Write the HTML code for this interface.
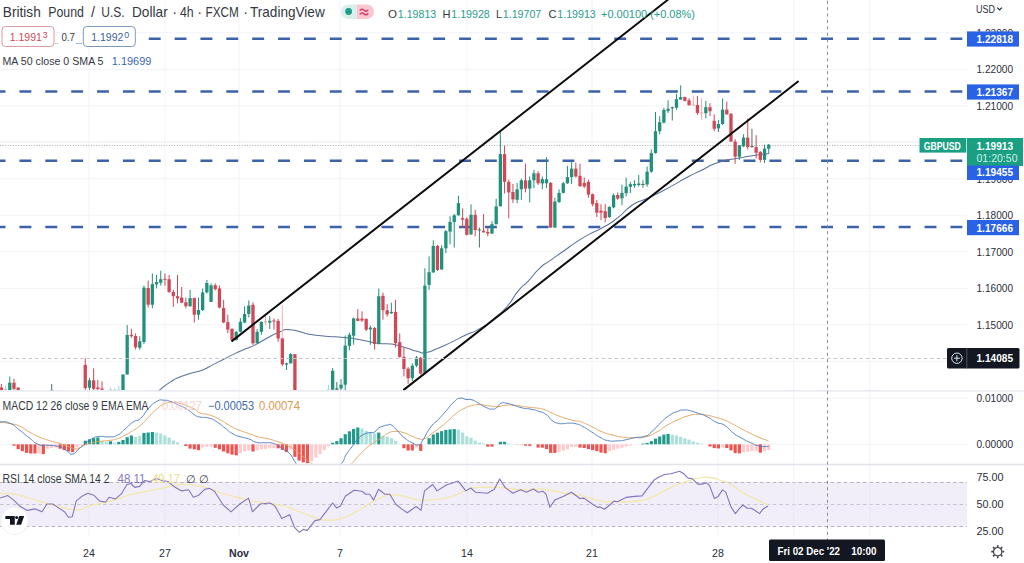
<!DOCTYPE html><html><head><meta charset="utf-8"><title>GBPUSD</title><style>html,body{margin:0;padding:0;background:#fff;width:1024px;height:563px;overflow:hidden}</style></head><body><svg width="1024" height="563" viewBox="0 0 1024 563" style="position:absolute;left:0;top:0">
<rect width="1024" height="563" fill="#ffffff"/>
<line x1="89" y1="0" x2="89" y2="536" stroke="#f2f3f7" stroke-width="1"/>
<line x1="165" y1="0" x2="165" y2="536" stroke="#f2f3f7" stroke-width="1"/>
<line x1="239" y1="0" x2="239" y2="536" stroke="#f2f3f7" stroke-width="1"/>
<line x1="340" y1="0" x2="340" y2="536" stroke="#f2f3f7" stroke-width="1"/>
<line x1="467" y1="0" x2="467" y2="536" stroke="#f2f3f7" stroke-width="1"/>
<line x1="592" y1="0" x2="592" y2="536" stroke="#f2f3f7" stroke-width="1"/>
<line x1="718" y1="0" x2="718" y2="536" stroke="#f2f3f7" stroke-width="1"/>
<line x1="793.7" y1="0" x2="793.7" y2="536" stroke="#f2f3f7" stroke-width="1"/>
<line x1="869.8" y1="0" x2="869.8" y2="536" stroke="#f2f3f7" stroke-width="1"/>
<line x1="0" y1="32.8" x2="967" y2="32.8" stroke="#f2f3f7" stroke-width="1"/>
<line x1="0" y1="69.3" x2="967" y2="69.3" stroke="#f2f3f7" stroke-width="1"/>
<line x1="0" y1="105.8" x2="967" y2="105.8" stroke="#f2f3f7" stroke-width="1"/>
<line x1="0" y1="142.3" x2="967" y2="142.3" stroke="#f2f3f7" stroke-width="1"/>
<line x1="0" y1="178.8" x2="967" y2="178.8" stroke="#f2f3f7" stroke-width="1"/>
<line x1="0" y1="215.3" x2="967" y2="215.3" stroke="#f2f3f7" stroke-width="1"/>
<line x1="0" y1="251.8" x2="967" y2="251.8" stroke="#f2f3f7" stroke-width="1"/>
<line x1="0" y1="288.3" x2="967" y2="288.3" stroke="#f2f3f7" stroke-width="1"/>
<line x1="0" y1="324.8" x2="967" y2="324.8" stroke="#f2f3f7" stroke-width="1"/>
<line x1="0" y1="361.3" x2="967" y2="361.3" stroke="#f2f3f7" stroke-width="1"/>
<line x1="0" y1="398.2" x2="967" y2="398.2" stroke="#f2f3f7" stroke-width="1"/>
<line x1="0" y1="444.3" x2="967" y2="444.3" stroke="#f2f3f7" stroke-width="1"/>
<rect x="0" y="482" width="967" height="44.5" fill="#f1eef9"/>
<line x1="0" y1="482.5" x2="967" y2="482.5" stroke="#b5b2c2" stroke-width="1" stroke-dasharray="3.5 2.94"/>
<line x1="0" y1="504.5" x2="967" y2="504.5" stroke="#c6c3d3" stroke-width="1" stroke-dasharray="3.5 2.94"/>
<line x1="0" y1="526.5" x2="967" y2="526.5" stroke="#b5b2c2" stroke-width="1" stroke-dasharray="3.5 2.94"/>
<line x1="89" y1="481.8" x2="89" y2="526" stroke="#e9e6f2" stroke-width="1"/>
<line x1="165" y1="481.8" x2="165" y2="526" stroke="#e9e6f2" stroke-width="1"/>
<line x1="239" y1="481.8" x2="239" y2="526" stroke="#e9e6f2" stroke-width="1"/>
<line x1="340" y1="481.8" x2="340" y2="526" stroke="#e9e6f2" stroke-width="1"/>
<line x1="467" y1="481.8" x2="467" y2="526" stroke="#e9e6f2" stroke-width="1"/>
<line x1="592" y1="481.8" x2="592" y2="526" stroke="#e9e6f2" stroke-width="1"/>
<line x1="718" y1="481.8" x2="718" y2="526" stroke="#e9e6f2" stroke-width="1"/>
<line x1="793.7" y1="481.8" x2="793.7" y2="526" stroke="#e9e6f2" stroke-width="1"/>
<line x1="869.8" y1="481.8" x2="869.8" y2="526" stroke="#e9e6f2" stroke-width="1"/>
<line x1="0" y1="390.8" x2="1024" y2="390.8" stroke="#e2e4ea" stroke-width="1.3"/>
<line x1="0" y1="464.5" x2="1024" y2="464.5" stroke="#e2e4ea" stroke-width="1.3"/>
<line x1="0" y1="145.5" x2="920" y2="145.5" stroke="#aeb1b8" stroke-width="1" stroke-dasharray="1 1.6"/>
<line x1="0" y1="141.5" x2="920" y2="141.5" stroke="#e2e4e9" stroke-width="1" stroke-dasharray="1 1.6"/>
<line x1="148.76" y1="38.8" x2="964" y2="38.8" stroke="#3c62a8" stroke-width="2.5" stroke-dasharray="11.9 13.96"/>
<line x1="-6.4" y1="91.5" x2="964" y2="91.5" stroke="#3c62a8" stroke-width="2.5" stroke-dasharray="11.9 13.96"/>
<line x1="-6.4" y1="160.8" x2="964" y2="160.8" stroke="#3c62a8" stroke-width="2.5" stroke-dasharray="11.9 13.96"/>
<line x1="-6.4" y1="227.1" x2="964" y2="227.1" stroke="#3c62a8" stroke-width="2.5" stroke-dasharray="11.9 13.96"/>
<defs><clipPath id="mp"><rect x="0" y="0" width="967" height="390.2"/></clipPath><clipPath id="md"><rect x="0" y="391.4" width="967" height="72.2"/></clipPath></defs>
<g clip-path="url(#mp)">
<path fill="none" stroke="#5a7296" stroke-width="1.05" d="M158.0 392.0C158.6 391.3 155.6 393.3 159.8 389.9C164.0 386.5 163.4 386.4 170.5 381.9C177.6 377.4 174.0 379.4 181.1 376.5C188.2 373.6 184.7 375.3 191.8 373.1C198.9 370.9 195.4 372.7 202.5 369.9C209.6 367.1 206.0 368.2 213.1 364.6C220.2 361.0 216.7 362.8 223.8 359.2C230.9 355.6 227.3 357.3 234.4 353.9C241.5 350.5 238.0 352.2 245.1 349.1C252.2 346.0 249.3 347.7 255.7 344.6C262.1 341.5 256.6 343.7 264.2 339.7C271.8 335.7 269.9 335.9 278.4 332.6C286.9 329.3 280.3 329.3 289.8 329.7C299.3 330.1 296.4 331.7 306.8 333.7C317.2 335.7 311.5 334.8 321.0 335.8C330.5 336.8 325.7 336.1 335.2 336.8C344.7 337.5 339.9 336.8 349.4 338.0C358.9 339.2 354.1 338.7 363.6 340.4C373.1 342.1 369.0 342.0 377.8 343.2C386.6 344.4 384.5 343.4 390.0 343.9C395.5 344.4 389.2 343.4 394.2 344.6C399.2 345.8 397.4 345.3 405.0 347.5C412.6 349.7 410.2 349.6 417.0 351.3C423.8 353.0 418.7 353.4 425.3 352.6C431.9 351.8 428.2 352.2 436.8 348.8C445.4 345.4 441.5 346.9 451.0 342.4C460.5 337.9 455.7 339.8 465.2 335.3C474.7 330.8 469.9 334.3 479.4 328.9C488.9 323.5 484.1 326.8 493.6 319.0C503.1 311.2 499.7 314.8 507.8 305.5C515.9 296.2 511.0 299.5 518.0 291.2C525.0 282.9 521.6 288.1 528.7 280.6C535.8 273.1 532.2 275.3 539.3 268.6C546.4 261.9 542.0 266.4 550.0 260.6C558.0 254.8 554.4 257.5 563.3 251.3C572.2 245.1 567.7 247.7 576.6 241.9C585.5 236.1 581.1 238.8 590.0 233.9C598.9 229.0 594.4 232.4 603.3 227.3C612.2 222.2 608.6 224.7 616.6 218.7C624.6 212.7 621.0 214.3 627.2 209.2C633.4 204.1 629.9 206.3 635.2 203.3C640.5 200.3 637.0 202.8 643.2 200.1C649.4 197.4 646.8 198.7 653.9 195.3C661.0 191.9 657.4 193.7 664.5 190.0C671.6 186.3 668.1 188.1 675.2 184.1C682.3 180.1 677.6 182.4 685.9 178.0C694.2 173.6 689.0 176.2 700.0 171.0C711.0 165.8 706.1 166.5 718.8 162.3C731.5 158.1 725.2 160.7 738.0 158.3C750.8 155.9 746.8 156.7 757.1 155.1C767.4 153.5 765.0 154.0 769.0 153.5"/>
<line x1="1.40" y1="384.0" x2="1.40" y2="390.0" stroke="#d04857" stroke-width="1"/>
<rect x="-0.25" y="387.5" width="3.3" height="2.5" fill="#d04857"/>
<line x1="5.59" y1="385.4" x2="5.59" y2="390.0" stroke="#a9d8d2" stroke-width="1"/>
<rect x="3.94" y="389.0" width="3.3" height="1.0" fill="#a9d8d2"/>
<line x1="9.79" y1="376.5" x2="9.79" y2="390.0" stroke="#22917c" stroke-width="1"/>
<rect x="8.14" y="382.7" width="3.3" height="7.3" fill="#22917c"/>
<line x1="13.98" y1="378.6" x2="13.98" y2="390.0" stroke="#d04857" stroke-width="1"/>
<rect x="12.33" y="382.7" width="3.3" height="6.1" fill="#d04857"/>
<line x1="18.17" y1="387.0" x2="18.17" y2="390.0" stroke="#d04857" stroke-width="1"/>
<rect x="16.52" y="387.7" width="3.3" height="2.3" fill="#d04857"/>
<line x1="51.72" y1="384.0" x2="51.72" y2="390.0" stroke="#4f7068" stroke-width="1"/>
<rect x="50.07" y="389.9" width="3.3" height="1.0" fill="#4f7068"/>
<line x1="85.26" y1="358.3" x2="85.26" y2="390.0" stroke="#d04857" stroke-width="1"/>
<rect x="83.61" y="364.9" width="3.3" height="23.2" fill="#d04857"/>
<line x1="89.45" y1="377.9" x2="89.45" y2="390.0" stroke="#22917c" stroke-width="1"/>
<rect x="87.80" y="380.3" width="3.3" height="7.4" fill="#22917c"/>
<line x1="93.65" y1="368.3" x2="93.65" y2="390.0" stroke="#d04857" stroke-width="1"/>
<rect x="92.00" y="380.3" width="3.3" height="8.5" fill="#d04857"/>
<line x1="97.84" y1="380.0" x2="97.84" y2="390.0" stroke="#d04857" stroke-width="1"/>
<rect x="96.19" y="387.5" width="3.3" height="1.5" fill="#d04857"/>
<line x1="102.03" y1="381.3" x2="102.03" y2="390.0" stroke="#d04857" stroke-width="1"/>
<rect x="100.38" y="388.5" width="3.3" height="1.3" fill="#d04857"/>
<line x1="110.42" y1="387.5" x2="110.42" y2="390.0" stroke="#a9d8d2" stroke-width="1"/>
<rect x="108.77" y="389.5" width="3.3" height="1.0" fill="#a9d8d2"/>
<line x1="114.61" y1="388.5" x2="114.61" y2="390.0" stroke="#a9d8d2" stroke-width="1"/>
<rect x="112.96" y="389.5" width="3.3" height="1.0" fill="#a9d8d2"/>
<line x1="118.80" y1="385.8" x2="118.80" y2="390.0" stroke="#a9d8d2" stroke-width="1"/>
<rect x="117.15" y="389.5" width="3.3" height="1.0" fill="#a9d8d2"/>
<line x1="123.00" y1="374.5" x2="123.00" y2="390.0" stroke="#22917c" stroke-width="1"/>
<rect x="121.35" y="374.5" width="3.3" height="15.5" fill="#22917c"/>
<line x1="127.19" y1="325.0" x2="127.19" y2="374.5" stroke="#22917c" stroke-width="1"/>
<rect x="125.54" y="335.0" width="3.3" height="39.5" fill="#22917c"/>
<line x1="131.38" y1="328.7" x2="131.38" y2="337.8" stroke="#d04857" stroke-width="1"/>
<rect x="129.73" y="334.8" width="3.3" height="1.4" fill="#d04857"/>
<line x1="135.58" y1="333.4" x2="135.58" y2="349.5" stroke="#d04857" stroke-width="1"/>
<rect x="133.93" y="336.0" width="3.3" height="11.4" fill="#d04857"/>
<line x1="139.77" y1="336.3" x2="139.77" y2="349.8" stroke="#22917c" stroke-width="1"/>
<rect x="138.12" y="341.3" width="3.3" height="6.4" fill="#22917c"/>
<line x1="143.96" y1="285.6" x2="143.96" y2="344.1" stroke="#22917c" stroke-width="1"/>
<rect x="142.31" y="287.7" width="3.3" height="54.3" fill="#22917c"/>
<line x1="148.16" y1="280.6" x2="148.16" y2="307.6" stroke="#d04857" stroke-width="1"/>
<rect x="146.50" y="288.0" width="3.3" height="16.7" fill="#d04857"/>
<line x1="152.35" y1="273.5" x2="152.35" y2="308.3" stroke="#22917c" stroke-width="1"/>
<rect x="150.70" y="284.1" width="3.3" height="20.6" fill="#22917c"/>
<line x1="156.54" y1="274.9" x2="156.54" y2="288.4" stroke="#22917c" stroke-width="1"/>
<rect x="154.89" y="282.0" width="3.3" height="2.4" fill="#22917c"/>
<line x1="160.73" y1="270.7" x2="160.73" y2="285.6" stroke="#22917c" stroke-width="1"/>
<rect x="159.08" y="279.2" width="3.3" height="3.5" fill="#22917c"/>
<line x1="164.93" y1="273.5" x2="164.93" y2="285.6" stroke="#d04857" stroke-width="1"/>
<rect x="163.28" y="278.8" width="3.3" height="1.0" fill="#d04857"/>
<line x1="169.12" y1="274.9" x2="169.12" y2="292.7" stroke="#d04857" stroke-width="1"/>
<rect x="167.47" y="279.2" width="3.3" height="12.8" fill="#d04857"/>
<line x1="173.31" y1="289.8" x2="173.31" y2="306.9" stroke="#d04857" stroke-width="1"/>
<rect x="171.66" y="292.0" width="3.3" height="4.2" fill="#d04857"/>
<line x1="177.51" y1="274.9" x2="177.51" y2="303.3" stroke="#d04857" stroke-width="1"/>
<rect x="175.86" y="296.2" width="3.3" height="2.2" fill="#d04857"/>
<line x1="181.70" y1="287.0" x2="181.70" y2="303.3" stroke="#d04857" stroke-width="1"/>
<rect x="180.05" y="297.6" width="3.3" height="5.0" fill="#d04857"/>
<line x1="185.89" y1="297.6" x2="185.89" y2="308.3" stroke="#d04857" stroke-width="1"/>
<rect x="184.24" y="302.2" width="3.3" height="4.0" fill="#d04857"/>
<line x1="190.08" y1="289.8" x2="190.08" y2="306.9" stroke="#22917c" stroke-width="1"/>
<rect x="188.43" y="298.1" width="3.3" height="8.1" fill="#22917c"/>
<line x1="194.28" y1="297.6" x2="194.28" y2="322.5" stroke="#d04857" stroke-width="1"/>
<rect x="192.63" y="298.1" width="3.3" height="16.6" fill="#d04857"/>
<line x1="198.47" y1="297.6" x2="198.47" y2="319.7" stroke="#22917c" stroke-width="1"/>
<rect x="196.82" y="310.0" width="3.3" height="4.7" fill="#22917c"/>
<line x1="202.66" y1="288.4" x2="202.66" y2="311.1" stroke="#22917c" stroke-width="1"/>
<rect x="201.01" y="292.4" width="3.3" height="17.6" fill="#22917c"/>
<line x1="206.86" y1="279.9" x2="206.86" y2="293.4" stroke="#22917c" stroke-width="1"/>
<rect x="205.21" y="283.0" width="3.3" height="9.4" fill="#22917c"/>
<line x1="211.05" y1="283.4" x2="211.05" y2="301.9" stroke="#22917c" stroke-width="1"/>
<rect x="209.40" y="285.3" width="3.3" height="16.6" fill="#22917c"/>
<line x1="215.24" y1="283.4" x2="215.24" y2="290.5" stroke="#d04857" stroke-width="1"/>
<rect x="213.59" y="285.3" width="3.3" height="3.8" fill="#d04857"/>
<line x1="219.44" y1="285.6" x2="219.44" y2="308.3" stroke="#d04857" stroke-width="1"/>
<rect x="217.79" y="288.4" width="3.3" height="19.2" fill="#d04857"/>
<line x1="223.63" y1="299.8" x2="223.63" y2="323.2" stroke="#d04857" stroke-width="1"/>
<rect x="221.98" y="308.0" width="3.3" height="14.5" fill="#d04857"/>
<line x1="227.82" y1="314.7" x2="227.82" y2="333.2" stroke="#d04857" stroke-width="1"/>
<rect x="226.17" y="322.2" width="3.3" height="7.4" fill="#d04857"/>
<line x1="232.01" y1="328.2" x2="232.01" y2="341.3" stroke="#d04857" stroke-width="1"/>
<rect x="230.36" y="328.9" width="3.3" height="11.0" fill="#d04857"/>
<line x1="236.21" y1="331.0" x2="236.21" y2="340.5" stroke="#22917c" stroke-width="1"/>
<rect x="234.56" y="331.9" width="3.3" height="8.0" fill="#22917c"/>
<line x1="240.40" y1="318.2" x2="240.40" y2="332.4" stroke="#22917c" stroke-width="1"/>
<rect x="238.75" y="321.8" width="3.3" height="9.9" fill="#22917c"/>
<line x1="244.59" y1="306.2" x2="244.59" y2="323.2" stroke="#22917c" stroke-width="1"/>
<rect x="242.94" y="314.0" width="3.3" height="8.5" fill="#22917c"/>
<line x1="248.79" y1="300.5" x2="248.79" y2="317.5" stroke="#22917c" stroke-width="1"/>
<rect x="247.14" y="305.5" width="3.3" height="8.5" fill="#22917c"/>
<line x1="252.98" y1="302.3" x2="252.98" y2="344.9" stroke="#d04857" stroke-width="1"/>
<rect x="251.33" y="304.8" width="3.3" height="38.5" fill="#d04857"/>
<line x1="257.17" y1="329.0" x2="257.17" y2="343.3" stroke="#22917c" stroke-width="1"/>
<rect x="255.52" y="331.8" width="3.3" height="11.5" fill="#22917c"/>
<line x1="261.37" y1="321.2" x2="261.37" y2="334.7" stroke="#22917c" stroke-width="1"/>
<rect x="259.72" y="321.9" width="3.3" height="9.9" fill="#22917c"/>
<line x1="265.56" y1="314.8" x2="265.56" y2="325.5" stroke="#f0a5a5" stroke-width="1"/>
<rect x="263.91" y="321.5" width="3.3" height="1.0" fill="#f0a5a5"/>
<line x1="269.75" y1="316.2" x2="269.75" y2="329.0" stroke="#22917c" stroke-width="1"/>
<rect x="268.10" y="320.8" width="3.3" height="1.8" fill="#22917c"/>
<line x1="273.94" y1="318.4" x2="273.94" y2="329.7" stroke="#d04857" stroke-width="1"/>
<rect x="272.29" y="320.5" width="3.3" height="1.0" fill="#d04857"/>
<line x1="278.14" y1="319.0" x2="278.14" y2="341.8" stroke="#d04857" stroke-width="1"/>
<rect x="276.49" y="320.9" width="3.3" height="17.6" fill="#d04857"/>
<line x1="282.33" y1="304.9" x2="282.33" y2="338.4" stroke="#eeb4b4" stroke-width="1"/>
<line x1="282.33" y1="338.4" x2="282.33" y2="366.0" stroke="#d04857" stroke-width="1"/>
<rect x="280.68" y="338.4" width="3.3" height="25.9" fill="#d04857"/>
<line x1="286.52" y1="362.5" x2="286.52" y2="370.0" stroke="#22917c" stroke-width="1"/>
<rect x="284.87" y="363.4" width="3.3" height="1.3" fill="#22917c"/>
<line x1="290.72" y1="353.2" x2="290.72" y2="363.4" stroke="#22917c" stroke-width="1"/>
<rect x="289.07" y="354.1" width="3.3" height="9.3" fill="#22917c"/>
<line x1="294.91" y1="354.1" x2="294.91" y2="390.0" stroke="#d04857" stroke-width="1"/>
<rect x="293.26" y="354.1" width="3.3" height="35.9" fill="#d04857"/>
<line x1="328.45" y1="384.7" x2="328.45" y2="390.0" stroke="#a9d8d2" stroke-width="1"/>
<rect x="326.80" y="389.5" width="3.3" height="1.0" fill="#a9d8d2"/>
<line x1="332.65" y1="368.0" x2="332.65" y2="390.0" stroke="#22917c" stroke-width="1"/>
<rect x="331.00" y="370.8" width="3.3" height="18.9" fill="#22917c"/>
<line x1="336.84" y1="382.0" x2="336.84" y2="390.0" stroke="#4f7068" stroke-width="1"/>
<rect x="335.19" y="388.4" width="3.3" height="1.3" fill="#4f7068"/>
<line x1="341.03" y1="379.2" x2="341.03" y2="390.0" stroke="#22917c" stroke-width="1"/>
<rect x="339.38" y="384.7" width="3.3" height="3.7" fill="#22917c"/>
<line x1="345.23" y1="335.5" x2="345.23" y2="390.0" stroke="#22917c" stroke-width="1"/>
<rect x="343.58" y="345.6" width="3.3" height="39.1" fill="#22917c"/>
<line x1="349.42" y1="332.6" x2="349.42" y2="350.3" stroke="#22917c" stroke-width="1"/>
<rect x="347.77" y="334.8" width="3.3" height="11.1" fill="#22917c"/>
<line x1="353.61" y1="317.6" x2="353.61" y2="344.7" stroke="#22917c" stroke-width="1"/>
<rect x="351.96" y="318.4" width="3.3" height="17.3" fill="#22917c"/>
<line x1="357.80" y1="309.1" x2="357.80" y2="321.2" stroke="#d04857" stroke-width="1"/>
<rect x="356.15" y="318.4" width="3.3" height="2.5" fill="#d04857"/>
<line x1="362.00" y1="311.3" x2="362.00" y2="321.9" stroke="#d04857" stroke-width="1"/>
<rect x="360.35" y="318.6" width="3.3" height="1.9" fill="#d04857"/>
<line x1="366.19" y1="318.4" x2="366.19" y2="331.1" stroke="#d04857" stroke-width="1"/>
<rect x="364.54" y="319.0" width="3.3" height="10.7" fill="#d04857"/>
<line x1="370.38" y1="325.5" x2="370.38" y2="344.7" stroke="#22917c" stroke-width="1"/>
<rect x="368.73" y="327.6" width="3.3" height="1.8" fill="#22917c"/>
<line x1="374.58" y1="326.9" x2="374.58" y2="349.5" stroke="#d04857" stroke-width="1"/>
<rect x="372.93" y="328.0" width="3.3" height="16.0" fill="#d04857"/>
<line x1="378.77" y1="288.5" x2="378.77" y2="344.6" stroke="#22917c" stroke-width="1"/>
<rect x="377.12" y="296.3" width="3.3" height="47.7" fill="#22917c"/>
<line x1="382.96" y1="292.7" x2="382.96" y2="319.7" stroke="#d04857" stroke-width="1"/>
<rect x="381.31" y="295.8" width="3.3" height="14.4" fill="#d04857"/>
<line x1="387.16" y1="304.1" x2="387.16" y2="316.5" stroke="#d04857" stroke-width="1"/>
<rect x="385.51" y="310.2" width="3.3" height="4.2" fill="#d04857"/>
<line x1="391.35" y1="302.7" x2="391.35" y2="314.0" stroke="#22917c" stroke-width="1"/>
<rect x="389.70" y="311.9" width="3.3" height="1.4" fill="#22917c"/>
<line x1="395.54" y1="299.8" x2="395.54" y2="347.5" stroke="#d04857" stroke-width="1"/>
<rect x="393.89" y="311.9" width="3.3" height="31.2" fill="#d04857"/>
<line x1="399.73" y1="333.5" x2="399.73" y2="357.8" stroke="#d04857" stroke-width="1"/>
<rect x="398.08" y="342.2" width="3.3" height="14.7" fill="#d04857"/>
<line x1="403.93" y1="347.6" x2="403.93" y2="376.4" stroke="#d04857" stroke-width="1"/>
<rect x="402.28" y="356.9" width="3.3" height="12.1" fill="#d04857"/>
<line x1="408.12" y1="367.1" x2="408.12" y2="383.8" stroke="#d04857" stroke-width="1"/>
<rect x="406.47" y="368.6" width="3.3" height="9.6" fill="#d04857"/>
<line x1="412.31" y1="363.4" x2="412.31" y2="381.0" stroke="#22917c" stroke-width="1"/>
<rect x="410.66" y="365.6" width="3.3" height="12.6" fill="#22917c"/>
<line x1="416.51" y1="356.0" x2="416.51" y2="367.1" stroke="#22917c" stroke-width="1"/>
<rect x="414.86" y="357.5" width="3.3" height="8.1" fill="#22917c"/>
<line x1="420.70" y1="356.9" x2="420.70" y2="374.5" stroke="#d04857" stroke-width="1"/>
<rect x="419.05" y="357.8" width="3.3" height="15.8" fill="#d04857"/>
<line x1="424.89" y1="268.3" x2="424.89" y2="373.0" stroke="#22917c" stroke-width="1"/>
<rect x="423.24" y="285.6" width="3.3" height="87.1" fill="#22917c"/>
<line x1="429.09" y1="256.3" x2="429.09" y2="289.9" stroke="#22917c" stroke-width="1"/>
<rect x="427.44" y="272.2" width="3.3" height="12.7" fill="#22917c"/>
<line x1="433.28" y1="240.3" x2="433.28" y2="273.0" stroke="#22917c" stroke-width="1"/>
<rect x="431.63" y="245.9" width="3.3" height="26.4" fill="#22917c"/>
<line x1="437.47" y1="245.0" x2="437.47" y2="271.0" stroke="#d04857" stroke-width="1"/>
<rect x="435.82" y="245.9" width="3.3" height="24.0" fill="#d04857"/>
<line x1="441.66" y1="245.1" x2="441.66" y2="270.0" stroke="#22917c" stroke-width="1"/>
<rect x="440.01" y="248.3" width="3.3" height="21.1" fill="#22917c"/>
<line x1="445.86" y1="230.0" x2="445.86" y2="253.1" stroke="#22917c" stroke-width="1"/>
<rect x="444.21" y="231.2" width="3.3" height="17.1" fill="#22917c"/>
<line x1="450.05" y1="216.4" x2="450.05" y2="244.3" stroke="#22917c" stroke-width="1"/>
<rect x="448.40" y="222.0" width="3.3" height="9.6" fill="#22917c"/>
<line x1="454.24" y1="214.0" x2="454.24" y2="247.5" stroke="#22917c" stroke-width="1"/>
<rect x="452.59" y="215.3" width="3.3" height="6.7" fill="#22917c"/>
<line x1="458.44" y1="195.6" x2="458.44" y2="215.6" stroke="#22917c" stroke-width="1"/>
<rect x="456.79" y="203.1" width="3.3" height="12.2" fill="#22917c"/>
<line x1="462.63" y1="208.4" x2="462.63" y2="227.6" stroke="#d04857" stroke-width="1"/>
<rect x="460.98" y="218.0" width="3.3" height="1.6" fill="#d04857"/>
<line x1="466.82" y1="217.2" x2="466.82" y2="235.5" stroke="#d04857" stroke-width="1"/>
<rect x="465.17" y="218.8" width="3.3" height="16.0" fill="#d04857"/>
<line x1="471.02" y1="204.4" x2="471.02" y2="234.8" stroke="#22917c" stroke-width="1"/>
<rect x="469.37" y="214.8" width="3.3" height="19.6" fill="#22917c"/>
<line x1="475.21" y1="210.0" x2="475.21" y2="236.3" stroke="#d04857" stroke-width="1"/>
<rect x="473.56" y="214.8" width="3.3" height="15.2" fill="#d04857"/>
<line x1="479.40" y1="227.6" x2="479.40" y2="247.5" stroke="#4f7068" stroke-width="1"/>
<rect x="477.75" y="229.5" width="3.3" height="1.0" fill="#4f7068"/>
<line x1="483.59" y1="214.0" x2="483.59" y2="232.4" stroke="#d04857" stroke-width="1"/>
<rect x="481.94" y="230.8" width="3.3" height="1.6" fill="#d04857"/>
<line x1="487.79" y1="227.6" x2="487.79" y2="236.3" stroke="#d04857" stroke-width="1"/>
<rect x="486.14" y="231.9" width="3.3" height="1.6" fill="#d04857"/>
<line x1="491.98" y1="221.2" x2="491.98" y2="234.0" stroke="#22917c" stroke-width="1"/>
<rect x="490.33" y="224.2" width="3.3" height="9.3" fill="#22917c"/>
<line x1="496.17" y1="198.8" x2="496.17" y2="224.4" stroke="#22917c" stroke-width="1"/>
<rect x="494.52" y="206.4" width="3.3" height="17.8" fill="#22917c"/>
<line x1="500.37" y1="131.7" x2="500.37" y2="206.3" stroke="#22917c" stroke-width="1"/>
<rect x="498.72" y="154.1" width="3.3" height="52.2" fill="#22917c"/>
<line x1="504.56" y1="145.6" x2="504.56" y2="193.5" stroke="#d04857" stroke-width="1"/>
<rect x="502.91" y="154.1" width="3.3" height="27.7" fill="#d04857"/>
<line x1="508.75" y1="179.7" x2="508.75" y2="218.4" stroke="#d04857" stroke-width="1"/>
<rect x="507.10" y="181.8" width="3.3" height="10.6" fill="#d04857"/>
<line x1="512.95" y1="183.9" x2="512.95" y2="203.0" stroke="#d04857" stroke-width="1"/>
<rect x="511.30" y="192.0" width="3.3" height="7.4" fill="#d04857"/>
<line x1="517.14" y1="182.9" x2="517.14" y2="203.3" stroke="#22917c" stroke-width="1"/>
<rect x="515.49" y="189.3" width="3.3" height="10.5" fill="#22917c"/>
<line x1="521.33" y1="178.6" x2="521.33" y2="200.0" stroke="#22917c" stroke-width="1"/>
<rect x="519.68" y="180.3" width="3.3" height="9.0" fill="#22917c"/>
<line x1="525.52" y1="163.7" x2="525.52" y2="192.4" stroke="#d04857" stroke-width="1"/>
<rect x="523.88" y="180.3" width="3.3" height="8.3" fill="#d04857"/>
<line x1="529.72" y1="176.5" x2="529.72" y2="202.4" stroke="#22917c" stroke-width="1"/>
<rect x="528.07" y="180.3" width="3.3" height="8.3" fill="#22917c"/>
<line x1="533.91" y1="170.0" x2="533.91" y2="188.2" stroke="#22917c" stroke-width="1"/>
<rect x="532.26" y="173.3" width="3.3" height="7.0" fill="#22917c"/>
<line x1="538.10" y1="171.1" x2="538.10" y2="185.0" stroke="#d04857" stroke-width="1"/>
<rect x="536.45" y="173.3" width="3.3" height="10.0" fill="#d04857"/>
<line x1="542.30" y1="176.5" x2="542.30" y2="189.3" stroke="#22917c" stroke-width="1"/>
<rect x="540.65" y="179.2" width="3.3" height="4.3" fill="#22917c"/>
<line x1="546.49" y1="157.3" x2="546.49" y2="188.2" stroke="#22917c" stroke-width="1"/>
<rect x="544.84" y="179.2" width="3.3" height="4.1" fill="#22917c"/>
<line x1="550.68" y1="182.0" x2="550.68" y2="227.6" stroke="#d04857" stroke-width="1"/>
<rect x="549.03" y="182.9" width="3.3" height="44.7" fill="#d04857"/>
<line x1="554.88" y1="197.8" x2="554.88" y2="227.6" stroke="#22917c" stroke-width="1"/>
<rect x="553.23" y="201.6" width="3.3" height="26.0" fill="#22917c"/>
<line x1="559.07" y1="189.3" x2="559.07" y2="203.1" stroke="#22917c" stroke-width="1"/>
<rect x="557.42" y="192.9" width="3.3" height="9.1" fill="#22917c"/>
<line x1="563.26" y1="181.8" x2="563.26" y2="193.5" stroke="#22917c" stroke-width="1"/>
<rect x="561.61" y="183.3" width="3.3" height="9.6" fill="#22917c"/>
<line x1="567.45" y1="165.8" x2="567.45" y2="183.9" stroke="#22917c" stroke-width="1"/>
<rect x="565.80" y="177.1" width="3.3" height="6.2" fill="#22917c"/>
<line x1="571.65" y1="161.6" x2="571.65" y2="183.9" stroke="#22917c" stroke-width="1"/>
<rect x="570.00" y="168.6" width="3.3" height="8.5" fill="#22917c"/>
<line x1="575.84" y1="162.6" x2="575.84" y2="177.5" stroke="#d04857" stroke-width="1"/>
<rect x="574.19" y="168.6" width="3.3" height="7.9" fill="#d04857"/>
<line x1="580.03" y1="163.7" x2="580.03" y2="187.1" stroke="#d04857" stroke-width="1"/>
<rect x="578.38" y="175.8" width="3.3" height="10.3" fill="#d04857"/>
<line x1="584.23" y1="177.5" x2="584.23" y2="188.2" stroke="#d04857" stroke-width="1"/>
<rect x="582.58" y="182.9" width="3.3" height="3.6" fill="#d04857"/>
<line x1="588.42" y1="179.7" x2="588.42" y2="197.8" stroke="#d04857" stroke-width="1"/>
<rect x="586.77" y="181.8" width="3.3" height="12.8" fill="#d04857"/>
<line x1="592.61" y1="193.5" x2="592.61" y2="206.3" stroke="#d04857" stroke-width="1"/>
<rect x="590.96" y="194.2" width="3.3" height="10.0" fill="#d04857"/>
<line x1="596.81" y1="199.9" x2="596.81" y2="217.0" stroke="#d04857" stroke-width="1"/>
<rect x="595.16" y="203.1" width="3.3" height="9.6" fill="#d04857"/>
<line x1="601.00" y1="204.2" x2="601.00" y2="220.1" stroke="#d04857" stroke-width="1"/>
<rect x="599.35" y="210.6" width="3.3" height="2.1" fill="#d04857"/>
<line x1="605.19" y1="204.2" x2="605.19" y2="222.3" stroke="#d04857" stroke-width="1"/>
<rect x="603.54" y="211.2" width="3.3" height="6.8" fill="#d04857"/>
<line x1="609.38" y1="206.3" x2="609.38" y2="218.0" stroke="#22917c" stroke-width="1"/>
<rect x="607.73" y="206.9" width="3.3" height="10.1" fill="#22917c"/>
<line x1="613.58" y1="193.5" x2="613.58" y2="208.4" stroke="#22917c" stroke-width="1"/>
<rect x="611.93" y="195.2" width="3.3" height="12.2" fill="#22917c"/>
<line x1="617.77" y1="192.4" x2="617.77" y2="199.9" stroke="#d04857" stroke-width="1"/>
<rect x="616.12" y="195.0" width="3.3" height="3.6" fill="#d04857"/>
<line x1="621.96" y1="184.7" x2="621.96" y2="205.2" stroke="#22917c" stroke-width="1"/>
<rect x="620.31" y="192.9" width="3.3" height="5.5" fill="#22917c"/>
<line x1="626.16" y1="177.6" x2="626.16" y2="196.4" stroke="#22917c" stroke-width="1"/>
<rect x="624.51" y="186.6" width="3.3" height="6.6" fill="#22917c"/>
<line x1="630.35" y1="181.9" x2="630.35" y2="193.0" stroke="#22917c" stroke-width="1"/>
<rect x="628.70" y="184.2" width="3.3" height="2.6" fill="#22917c"/>
<line x1="634.54" y1="180.2" x2="634.54" y2="187.7" stroke="#22917c" stroke-width="1"/>
<rect x="632.89" y="184.0" width="3.3" height="1.5" fill="#22917c"/>
<line x1="638.74" y1="174.9" x2="638.74" y2="186.6" stroke="#22917c" stroke-width="1"/>
<rect x="637.09" y="183.5" width="3.3" height="1.5" fill="#22917c"/>
<line x1="642.93" y1="180.2" x2="642.93" y2="187.7" stroke="#4f7068" stroke-width="1"/>
<rect x="641.28" y="184.0" width="3.3" height="1.0" fill="#4f7068"/>
<line x1="647.12" y1="166.4" x2="647.12" y2="186.6" stroke="#22917c" stroke-width="1"/>
<rect x="645.47" y="171.7" width="3.3" height="12.8" fill="#22917c"/>
<line x1="651.31" y1="149.3" x2="651.31" y2="172.8" stroke="#22917c" stroke-width="1"/>
<rect x="649.66" y="153.1" width="3.3" height="18.6" fill="#22917c"/>
<line x1="655.51" y1="112.0" x2="655.51" y2="153.6" stroke="#22917c" stroke-width="1"/>
<rect x="653.86" y="131.2" width="3.3" height="21.9" fill="#22917c"/>
<line x1="659.70" y1="116.2" x2="659.70" y2="134.4" stroke="#22917c" stroke-width="1"/>
<rect x="658.05" y="122.2" width="3.3" height="9.0" fill="#22917c"/>
<line x1="663.89" y1="107.7" x2="663.89" y2="123.7" stroke="#22917c" stroke-width="1"/>
<rect x="662.24" y="109.9" width="3.3" height="12.7" fill="#22917c"/>
<line x1="668.09" y1="100.3" x2="668.09" y2="113.0" stroke="#22917c" stroke-width="1"/>
<rect x="666.44" y="108.8" width="3.3" height="2.1" fill="#22917c"/>
<line x1="672.28" y1="106.7" x2="672.28" y2="120.5" stroke="#4f7068" stroke-width="1"/>
<rect x="670.63" y="107.3" width="3.3" height="1.1" fill="#4f7068"/>
<line x1="676.47" y1="93.9" x2="676.47" y2="109.9" stroke="#22917c" stroke-width="1"/>
<rect x="674.82" y="99.2" width="3.3" height="8.5" fill="#22917c"/>
<line x1="680.67" y1="85.3" x2="680.67" y2="99.6" stroke="#22917c" stroke-width="1"/>
<rect x="679.02" y="97.1" width="3.3" height="2.5" fill="#22917c"/>
<line x1="684.86" y1="96.5" x2="684.86" y2="101.5" stroke="#d04857" stroke-width="1"/>
<rect x="683.21" y="97.1" width="3.3" height="3.8" fill="#d04857"/>
<line x1="689.05" y1="98.2" x2="689.05" y2="105.6" stroke="#d04857" stroke-width="1"/>
<rect x="687.40" y="100.3" width="3.3" height="4.9" fill="#d04857"/>
<line x1="693.24" y1="95.5" x2="693.24" y2="105.6" stroke="#f0a5a5" stroke-width="1"/>
<rect x="691.59" y="104.6" width="3.3" height="1.0" fill="#f0a5a5"/>
<line x1="697.44" y1="96.0" x2="697.44" y2="114.8" stroke="#d04857" stroke-width="1"/>
<rect x="695.79" y="105.0" width="3.3" height="7.9" fill="#d04857"/>
<line x1="701.63" y1="98.2" x2="701.63" y2="119.7" stroke="#f0a5a5" stroke-width="1"/>
<rect x="699.98" y="112.5" width="3.3" height="1.0" fill="#f0a5a5"/>
<line x1="705.82" y1="100.8" x2="705.82" y2="118.4" stroke="#22917c" stroke-width="1"/>
<rect x="704.17" y="107.2" width="3.3" height="6.0" fill="#22917c"/>
<line x1="710.02" y1="103.2" x2="710.02" y2="116.0" stroke="#d04857" stroke-width="1"/>
<rect x="708.37" y="107.2" width="3.3" height="4.0" fill="#d04857"/>
<line x1="714.21" y1="114.4" x2="714.21" y2="131.2" stroke="#d04857" stroke-width="1"/>
<rect x="712.56" y="120.8" width="3.3" height="8.0" fill="#d04857"/>
<line x1="718.40" y1="120.0" x2="718.40" y2="132.0" stroke="#22917c" stroke-width="1"/>
<rect x="716.75" y="124.0" width="3.3" height="4.4" fill="#22917c"/>
<line x1="722.60" y1="98.4" x2="722.60" y2="124.8" stroke="#22917c" stroke-width="1"/>
<rect x="720.95" y="109.6" width="3.3" height="14.4" fill="#22917c"/>
<line x1="726.79" y1="101.6" x2="726.79" y2="114.4" stroke="#d04857" stroke-width="1"/>
<rect x="725.14" y="109.6" width="3.3" height="4.8" fill="#d04857"/>
<line x1="730.98" y1="113.6" x2="730.98" y2="141.6" stroke="#d04857" stroke-width="1"/>
<rect x="729.33" y="113.6" width="3.3" height="28.0" fill="#d04857"/>
<line x1="735.17" y1="139.2" x2="735.17" y2="163.9" stroke="#d04857" stroke-width="1"/>
<rect x="733.52" y="141.6" width="3.3" height="15.1" fill="#d04857"/>
<line x1="739.37" y1="145.2" x2="739.37" y2="160.0" stroke="#22917c" stroke-width="1"/>
<rect x="737.72" y="145.2" width="3.3" height="11.5" fill="#22917c"/>
<line x1="743.56" y1="134.4" x2="743.56" y2="147.1" stroke="#22917c" stroke-width="1"/>
<rect x="741.91" y="137.6" width="3.3" height="8.7" fill="#22917c"/>
<line x1="747.75" y1="118.4" x2="747.75" y2="149.5" stroke="#d04857" stroke-width="1"/>
<rect x="746.10" y="137.6" width="3.3" height="9.5" fill="#d04857"/>
<line x1="751.95" y1="128.8" x2="751.95" y2="147.9" stroke="#4f7068" stroke-width="1"/>
<rect x="750.30" y="146.0" width="3.3" height="1.0" fill="#4f7068"/>
<line x1="756.14" y1="135.2" x2="756.14" y2="158.3" stroke="#d04857" stroke-width="1"/>
<rect x="754.49" y="147.1" width="3.3" height="5.6" fill="#d04857"/>
<line x1="760.33" y1="151.1" x2="760.33" y2="162.3" stroke="#d04857" stroke-width="1"/>
<rect x="758.68" y="151.9" width="3.3" height="8.0" fill="#d04857"/>
<line x1="764.53" y1="144.7" x2="764.53" y2="163.1" stroke="#22917c" stroke-width="1"/>
<rect x="762.88" y="148.7" width="3.3" height="11.2" fill="#22917c"/>
<line x1="768.72" y1="144.0" x2="768.72" y2="153.5" stroke="#22917c" stroke-width="1"/>
<rect x="767.07" y="144.7" width="3.3" height="4.0" fill="#22917c"/>
<line x1="232.2" y1="340.9" x2="668.5" y2="-0.7" stroke="#0c0c0c" stroke-width="2.0" stroke-linecap="round"/>
<line x1="404" y1="389.6" x2="798" y2="81.5" stroke="#0c0c0c" stroke-width="2.0" stroke-linecap="round"/>
</g>
<g clip-path="url(#md)">
<rect x="12.38" y="444.3" width="3.2" height="1.4" fill="#ef5350"/>
<rect x="16.57" y="444.3" width="3.2" height="4.8" fill="#ef5350"/>
<rect x="20.76" y="444.3" width="3.2" height="6.9" fill="#ef5350"/>
<rect x="24.96" y="444.3" width="3.2" height="8.6" fill="#ef5350"/>
<rect x="29.15" y="444.3" width="3.2" height="9.2" fill="#ef5350"/>
<rect x="33.34" y="444.3" width="3.2" height="9.2" fill="#ef5350"/>
<rect x="37.54" y="444.3" width="3.2" height="9.2" fill="#fccbcd"/>
<rect x="41.73" y="444.3" width="3.2" height="9.8" fill="#ef5350"/>
<rect x="45.92" y="444.3" width="3.2" height="4.5" fill="#fccbcd"/>
<rect x="50.12" y="444.3" width="3.2" height="3.7" fill="#fccbcd"/>
<rect x="54.31" y="444.3" width="3.2" height="3.3" fill="#fccbcd"/>
<rect x="58.50" y="444.3" width="3.2" height="4.4" fill="#ef5350"/>
<rect x="62.70" y="444.3" width="3.2" height="5.8" fill="#ef5350"/>
<rect x="66.89" y="444.3" width="3.2" height="7.1" fill="#ef5350"/>
<rect x="71.08" y="444.3" width="3.2" height="7.8" fill="#ef5350"/>
<rect x="75.27" y="444.3" width="3.2" height="3.0" fill="#fccbcd"/>
<rect x="79.47" y="444.3" width="3.2" height="1.4" fill="#fccbcd"/>
<rect x="83.66" y="440.7" width="3.2" height="3.6" fill="#229a8b"/>
<rect x="87.85" y="439.3" width="3.2" height="5.0" fill="#229a8b"/>
<rect x="92.05" y="438.1" width="3.2" height="6.2" fill="#229a8b"/>
<rect x="96.24" y="437.5" width="3.2" height="6.8" fill="#229a8b"/>
<rect x="100.43" y="441.1" width="3.2" height="3.2" fill="#ace0da"/>
<rect x="104.62" y="441.8" width="3.2" height="2.5" fill="#ace0da"/>
<rect x="108.82" y="441.2" width="3.2" height="3.1" fill="#229a8b"/>
<rect x="113.01" y="442.7" width="3.2" height="1.6" fill="#ace0da"/>
<rect x="117.20" y="441.9" width="3.2" height="2.4" fill="#229a8b"/>
<rect x="121.40" y="440.0" width="3.2" height="4.3" fill="#229a8b"/>
<rect x="125.59" y="437.2" width="3.2" height="7.1" fill="#229a8b"/>
<rect x="129.78" y="435.5" width="3.2" height="8.8" fill="#229a8b"/>
<rect x="133.98" y="436.9" width="3.2" height="7.4" fill="#ace0da"/>
<rect x="138.17" y="435.9" width="3.2" height="8.4" fill="#ace0da"/>
<rect x="142.36" y="432.9" width="3.2" height="11.4" fill="#229a8b"/>
<rect x="146.56" y="432.5" width="3.2" height="11.8" fill="#229a8b"/>
<rect x="150.75" y="432.0" width="3.2" height="12.3" fill="#229a8b"/>
<rect x="154.94" y="432.6" width="3.2" height="11.7" fill="#ace0da"/>
<rect x="159.13" y="433.6" width="3.2" height="10.7" fill="#ace0da"/>
<rect x="163.33" y="435.4" width="3.2" height="8.9" fill="#ace0da"/>
<rect x="167.52" y="437.6" width="3.2" height="6.7" fill="#ace0da"/>
<rect x="171.71" y="440.4" width="3.2" height="3.9" fill="#ace0da"/>
<rect x="175.91" y="442.3" width="3.2" height="2.0" fill="#ace0da"/>
<rect x="184.29" y="444.3" width="3.2" height="1.7" fill="#ef5350"/>
<rect x="188.48" y="444.3" width="3.2" height="4.3" fill="#ef5350"/>
<rect x="192.68" y="444.3" width="3.2" height="5.0" fill="#ef5350"/>
<rect x="196.87" y="444.3" width="3.2" height="5.9" fill="#ef5350"/>
<rect x="201.06" y="444.3" width="3.2" height="3.2" fill="#fccbcd"/>
<rect x="205.26" y="444.3" width="3.2" height="2.6" fill="#fccbcd"/>
<rect x="209.45" y="444.3" width="3.2" height="2.3" fill="#fccbcd"/>
<rect x="213.64" y="444.3" width="3.2" height="3.5" fill="#ef5350"/>
<rect x="217.84" y="444.3" width="3.2" height="5.0" fill="#ef5350"/>
<rect x="222.03" y="444.3" width="3.2" height="7.2" fill="#ef5350"/>
<rect x="226.22" y="444.3" width="3.2" height="9.0" fill="#ef5350"/>
<rect x="230.41" y="444.3" width="3.2" height="10.4" fill="#ef5350"/>
<rect x="234.61" y="444.3" width="3.2" height="11.1" fill="#ef5350"/>
<rect x="238.80" y="444.3" width="3.2" height="8.9" fill="#fccbcd"/>
<rect x="242.99" y="444.3" width="3.2" height="7.0" fill="#fccbcd"/>
<rect x="247.19" y="444.3" width="3.2" height="6.2" fill="#fccbcd"/>
<rect x="251.38" y="444.3" width="3.2" height="7.2" fill="#ef5350"/>
<rect x="255.57" y="444.3" width="3.2" height="6.1" fill="#fccbcd"/>
<rect x="259.77" y="444.3" width="3.2" height="5.1" fill="#fccbcd"/>
<rect x="263.96" y="444.3" width="3.2" height="4.6" fill="#fccbcd"/>
<rect x="268.15" y="444.3" width="3.2" height="4.1" fill="#fccbcd"/>
<rect x="272.34" y="444.3" width="3.2" height="3.9" fill="#fccbcd"/>
<rect x="276.54" y="444.3" width="3.2" height="4.0" fill="#ef5350"/>
<rect x="280.73" y="444.3" width="3.2" height="5.6" fill="#ef5350"/>
<rect x="284.92" y="444.3" width="3.2" height="7.8" fill="#ef5350"/>
<rect x="289.12" y="444.3" width="3.2" height="5.3" fill="#fccbcd"/>
<rect x="293.31" y="444.3" width="3.2" height="12.5" fill="#ef5350"/>
<rect x="297.50" y="444.3" width="3.2" height="16.3" fill="#ef5350"/>
<rect x="301.70" y="444.3" width="3.2" height="18.1" fill="#ef5350"/>
<rect x="305.89" y="444.3" width="3.2" height="18.9" fill="#ef5350"/>
<rect x="310.08" y="444.3" width="3.2" height="16.5" fill="#fccbcd"/>
<rect x="314.27" y="444.3" width="3.2" height="13.4" fill="#fccbcd"/>
<rect x="318.47" y="444.3" width="3.2" height="10.0" fill="#fccbcd"/>
<rect x="322.66" y="444.3" width="3.2" height="5.8" fill="#fccbcd"/>
<rect x="326.85" y="444.3" width="3.2" height="2.2" fill="#fccbcd"/>
<rect x="331.05" y="442.8" width="3.2" height="1.5" fill="#229a8b"/>
<rect x="335.24" y="441.1" width="3.2" height="3.2" fill="#229a8b"/>
<rect x="339.43" y="438.2" width="3.2" height="6.1" fill="#229a8b"/>
<rect x="343.63" y="434.2" width="3.2" height="10.1" fill="#229a8b"/>
<rect x="347.82" y="431.3" width="3.2" height="13.0" fill="#229a8b"/>
<rect x="352.01" y="428.9" width="3.2" height="15.4" fill="#229a8b"/>
<rect x="356.20" y="427.5" width="3.2" height="16.8" fill="#229a8b"/>
<rect x="360.40" y="428.6" width="3.2" height="15.7" fill="#ace0da"/>
<rect x="364.59" y="430.7" width="3.2" height="13.6" fill="#ace0da"/>
<rect x="368.78" y="432.5" width="3.2" height="11.8" fill="#ace0da"/>
<rect x="372.98" y="433.4" width="3.2" height="10.9" fill="#ace0da"/>
<rect x="377.17" y="432.6" width="3.2" height="11.7" fill="#229a8b"/>
<rect x="381.36" y="435.9" width="3.2" height="8.4" fill="#ace0da"/>
<rect x="385.56" y="436.5" width="3.2" height="7.8" fill="#ace0da"/>
<rect x="389.75" y="438.2" width="3.2" height="6.1" fill="#ace0da"/>
<rect x="393.94" y="440.8" width="3.2" height="3.5" fill="#ace0da"/>
<rect x="402.33" y="444.3" width="3.2" height="3.9" fill="#ef5350"/>
<rect x="406.52" y="444.3" width="3.2" height="6.2" fill="#ef5350"/>
<rect x="410.71" y="444.3" width="3.2" height="6.2" fill="#ef5350"/>
<rect x="414.91" y="444.3" width="3.2" height="3.3" fill="#fccbcd"/>
<rect x="419.10" y="444.3" width="3.2" height="6.6" fill="#ef5350"/>
<rect x="427.49" y="438.2" width="3.2" height="6.1" fill="#229a8b"/>
<rect x="431.68" y="434.5" width="3.2" height="9.8" fill="#229a8b"/>
<rect x="435.87" y="432.7" width="3.2" height="11.6" fill="#229a8b"/>
<rect x="440.06" y="431.2" width="3.2" height="13.1" fill="#229a8b"/>
<rect x="444.26" y="430.0" width="3.2" height="14.3" fill="#229a8b"/>
<rect x="448.45" y="429.4" width="3.2" height="14.9" fill="#229a8b"/>
<rect x="452.64" y="429.1" width="3.2" height="15.2" fill="#229a8b"/>
<rect x="456.84" y="429.7" width="3.2" height="14.6" fill="#ace0da"/>
<rect x="461.03" y="432.6" width="3.2" height="11.7" fill="#ace0da"/>
<rect x="465.22" y="436.2" width="3.2" height="8.1" fill="#ace0da"/>
<rect x="469.42" y="437.8" width="3.2" height="6.5" fill="#ace0da"/>
<rect x="473.61" y="440.6" width="3.2" height="3.7" fill="#ace0da"/>
<rect x="477.80" y="442.6" width="3.2" height="1.7" fill="#ace0da"/>
<rect x="481.99" y="443.5" width="3.2" height="0.8" fill="#ace0da"/>
<rect x="486.19" y="444.3" width="3.2" height="2.3" fill="#ef5350"/>
<rect x="490.38" y="444.3" width="3.2" height="2.3" fill="#ef5350"/>
<rect x="498.77" y="441.8" width="3.2" height="2.5" fill="#229a8b"/>
<rect x="502.96" y="441.8" width="3.2" height="2.5" fill="#229a8b"/>
<rect x="507.15" y="443.5" width="3.2" height="0.8" fill="#ace0da"/>
<rect x="515.54" y="444.3" width="3.2" height="0.8" fill="#fccbcd"/>
<rect x="519.73" y="444.3" width="3.2" height="1.0" fill="#fccbcd"/>
<rect x="523.92" y="444.3" width="3.2" height="1.4" fill="#ef5350"/>
<rect x="528.12" y="444.3" width="3.2" height="1.6" fill="#ef5350"/>
<rect x="536.50" y="444.3" width="3.2" height="3.3" fill="#ef5350"/>
<rect x="540.70" y="444.3" width="3.2" height="3.4" fill="#ef5350"/>
<rect x="544.89" y="444.3" width="3.2" height="4.8" fill="#ef5350"/>
<rect x="549.08" y="444.3" width="3.2" height="8.6" fill="#ef5350"/>
<rect x="553.28" y="444.3" width="3.2" height="8.6" fill="#ef5350"/>
<rect x="557.47" y="444.3" width="3.2" height="7.7" fill="#fccbcd"/>
<rect x="561.66" y="444.3" width="3.2" height="6.4" fill="#fccbcd"/>
<rect x="565.85" y="444.3" width="3.2" height="5.0" fill="#fccbcd"/>
<rect x="570.05" y="444.3" width="3.2" height="2.6" fill="#fccbcd"/>
<rect x="574.24" y="444.3" width="3.2" height="2.6" fill="#fccbcd"/>
<rect x="578.43" y="444.3" width="3.2" height="3.3" fill="#ef5350"/>
<rect x="582.63" y="444.3" width="3.2" height="3.7" fill="#ef5350"/>
<rect x="586.82" y="444.3" width="3.2" height="4.8" fill="#ef5350"/>
<rect x="591.01" y="444.3" width="3.2" height="5.8" fill="#ef5350"/>
<rect x="595.21" y="444.3" width="3.2" height="6.9" fill="#ef5350"/>
<rect x="599.40" y="444.3" width="3.2" height="8.3" fill="#ef5350"/>
<rect x="603.59" y="444.3" width="3.2" height="9.0" fill="#ef5350"/>
<rect x="607.78" y="444.3" width="3.2" height="6.9" fill="#fccbcd"/>
<rect x="611.98" y="444.3" width="3.2" height="5.5" fill="#fccbcd"/>
<rect x="616.17" y="444.3" width="3.2" height="4.3" fill="#fccbcd"/>
<rect x="620.36" y="444.3" width="3.2" height="3.4" fill="#fccbcd"/>
<rect x="624.56" y="444.3" width="3.2" height="2.2" fill="#fccbcd"/>
<rect x="628.75" y="444.3" width="3.2" height="1.2" fill="#fccbcd"/>
<rect x="641.33" y="443.6" width="3.2" height="0.7" fill="#229a8b"/>
<rect x="645.52" y="442.9" width="3.2" height="1.4" fill="#229a8b"/>
<rect x="649.71" y="441.1" width="3.2" height="3.2" fill="#229a8b"/>
<rect x="653.91" y="438.6" width="3.2" height="5.7" fill="#229a8b"/>
<rect x="658.10" y="436.5" width="3.2" height="7.8" fill="#229a8b"/>
<rect x="662.29" y="434.6" width="3.2" height="9.7" fill="#229a8b"/>
<rect x="666.49" y="434.0" width="3.2" height="10.3" fill="#229a8b"/>
<rect x="670.68" y="434.7" width="3.2" height="9.6" fill="#ace0da"/>
<rect x="674.87" y="435.5" width="3.2" height="8.8" fill="#ace0da"/>
<rect x="679.07" y="436.8" width="3.2" height="7.5" fill="#ace0da"/>
<rect x="683.26" y="438.3" width="3.2" height="6.0" fill="#ace0da"/>
<rect x="687.45" y="439.7" width="3.2" height="4.6" fill="#ace0da"/>
<rect x="691.64" y="441.4" width="3.2" height="2.9" fill="#ace0da"/>
<rect x="695.84" y="442.7" width="3.2" height="1.6" fill="#ace0da"/>
<rect x="700.03" y="443.7" width="3.2" height="0.6" fill="#ace0da"/>
<rect x="708.42" y="444.3" width="3.2" height="2.2" fill="#ef5350"/>
<rect x="712.61" y="444.3" width="3.2" height="3.8" fill="#ef5350"/>
<rect x="716.80" y="444.3" width="3.2" height="4.1" fill="#ef5350"/>
<rect x="721.00" y="444.3" width="3.2" height="3.2" fill="#fccbcd"/>
<rect x="725.19" y="444.3" width="3.2" height="3.7" fill="#ef5350"/>
<rect x="729.38" y="444.3" width="3.2" height="6.1" fill="#ef5350"/>
<rect x="733.57" y="444.3" width="3.2" height="8.9" fill="#ef5350"/>
<rect x="737.77" y="444.3" width="3.2" height="9.0" fill="#ef5350"/>
<rect x="741.96" y="444.3" width="3.2" height="7.9" fill="#fccbcd"/>
<rect x="746.15" y="444.3" width="3.2" height="7.6" fill="#fccbcd"/>
<rect x="750.35" y="444.3" width="3.2" height="7.0" fill="#fccbcd"/>
<rect x="754.54" y="444.3" width="3.2" height="6.5" fill="#fccbcd"/>
<rect x="758.73" y="444.3" width="3.2" height="8.4" fill="#ef5350"/>
<rect x="762.93" y="444.3" width="3.2" height="6.8" fill="#fccbcd"/>
<rect x="767.12" y="444.3" width="3.2" height="5.8" fill="#fccbcd"/>
<path fill="none" stroke="#e3a35c" stroke-width="0.95" d="M0.0 422.2C3.3 422.7 3.3 422.3 9.8 423.6C16.3 424.9 13.0 423.3 19.5 426.1C26.0 428.9 22.8 428.4 29.3 432.0C35.8 435.6 32.5 434.1 39.0 436.9C45.5 439.7 42.3 438.3 48.8 440.4C55.3 442.5 52.7 441.3 58.6 443.1C64.5 444.9 61.2 443.9 66.4 445.7C71.6 447.5 69.7 448.0 74.2 448.6C78.7 449.2 76.1 448.9 80.0 447.6C83.9 446.3 81.4 446.5 86.0 444.7C90.6 442.9 88.6 443.5 93.8 442.3C99.0 441.1 96.4 441.8 101.6 441.2C106.8 440.6 104.2 441.2 109.4 440.4C114.6 439.6 112.0 440.5 117.2 438.8C122.4 437.1 119.8 438.0 125.0 435.3C130.2 432.6 127.6 434.0 132.8 430.6C138.0 427.2 135.4 429.6 140.6 425.2C145.8 420.8 143.2 422.5 148.4 417.3C153.6 412.1 151.1 413.9 156.3 409.5C161.5 405.1 158.8 406.6 164.0 404.1C169.2 401.6 166.7 402.4 171.9 402.1C177.1 401.8 174.5 402.0 179.7 403.3C184.9 404.6 182.3 403.9 187.5 406.0C192.7 408.1 191.2 407.2 195.3 409.5C199.4 411.8 195.1 411.2 199.8 413.0C204.5 414.8 203.0 412.9 209.5 415.0C216.0 417.1 212.8 415.9 219.3 419.3C225.8 422.7 222.5 421.6 229.0 425.2C235.5 428.8 232.3 427.3 238.8 430.0C245.3 432.7 242.1 431.1 248.6 433.4C255.1 435.7 251.9 435.1 258.4 436.9C264.9 438.7 261.6 437.2 268.1 438.8C274.6 440.4 271.4 439.5 277.9 441.8C284.4 444.1 281.8 442.8 287.7 445.7C293.6 448.6 290.4 446.9 295.5 450.5C300.6 454.1 297.5 452.1 303.0 456.5C308.5 460.9 305.7 459.6 312.0 463.8C318.3 468.0 314.7 466.9 322.0 469.0C329.3 471.1 326.7 470.5 334.0 470.0C341.3 469.5 338.3 469.6 344.0 467.5C349.7 465.4 346.4 467.5 351.1 463.8C355.8 460.1 353.1 461.5 358.0 456.4C362.9 451.3 360.6 453.2 365.8 448.6C371.0 444.0 368.4 446.3 373.6 442.7C378.8 439.1 376.7 441.0 381.4 437.9C386.1 434.8 383.1 435.6 387.8 433.4C392.5 431.2 390.4 431.7 395.6 431.4C400.8 431.1 398.2 431.1 403.4 432.6C408.6 434.1 406.1 433.8 411.3 435.9C416.5 438.0 414.5 438.0 419.0 438.8C423.5 439.6 420.3 440.3 424.9 438.4C429.5 436.5 427.5 436.8 432.7 433.0C437.9 429.2 435.3 431.3 440.5 427.1C445.7 422.9 443.2 424.9 448.4 420.3C453.6 415.7 451.0 417.3 456.2 413.4C461.4 409.5 458.8 411.2 464.0 408.6C469.2 406.0 466.6 406.9 471.8 405.6C477.0 404.3 474.4 404.6 479.6 404.6C484.8 404.6 481.5 404.9 487.4 405.6C493.3 406.3 491.3 406.7 497.2 406.6C503.1 406.5 499.8 405.7 505.0 405.2C510.2 404.7 507.6 404.9 512.8 405.2C518.0 405.5 515.4 405.3 520.6 406.0C525.8 406.7 523.2 406.5 528.4 407.2C533.6 407.9 531.1 407.2 536.3 408.0C541.5 408.8 538.8 407.8 544.0 409.5C549.2 411.2 546.7 410.7 551.9 413.0C557.1 415.3 554.5 414.4 559.7 416.4C564.9 418.4 562.3 417.4 567.5 418.9C572.7 420.4 570.9 419.9 575.3 420.9C579.7 421.9 575.3 419.9 580.7 421.8C586.1 423.7 584.3 423.1 591.5 426.5C598.7 429.9 595.0 429.0 602.2 431.9C609.4 434.8 605.8 433.3 613.0 435.1C620.2 436.9 616.6 436.4 623.7 437.3C630.8 438.2 627.2 437.9 634.4 437.7C641.6 437.5 638.0 438.5 645.2 436.8C652.4 435.1 648.7 436.3 655.9 432.5C663.1 428.7 659.5 429.5 666.7 425.4C673.9 421.3 670.2 423.3 677.4 420.1C684.6 416.9 681.0 417.7 688.2 415.8C695.4 413.9 692.5 414.5 698.9 414.3C705.3 414.1 701.8 414.2 707.5 415.3C713.2 416.4 710.4 415.9 716.1 417.5C721.8 419.1 719.0 417.8 724.7 420.1C730.4 422.4 727.6 421.4 733.3 424.4C739.0 427.4 736.2 426.1 741.9 429.1C747.6 432.1 744.7 430.7 750.4 433.4C756.1 436.1 752.9 434.7 759.0 437.3C765.1 439.9 765.5 439.8 768.7 441.1"/>
<path fill="none" stroke="#4f7cc0" stroke-width="0.95" d="M0.0 421.8C3.3 422.3 3.3 420.5 9.8 423.2C16.3 425.9 13.0 425.1 19.5 430.0C26.0 434.9 22.8 433.0 29.3 437.9C35.8 442.8 32.5 442.2 39.0 444.7C45.5 447.2 42.3 444.7 48.8 445.3C55.3 445.9 52.7 444.9 58.6 446.6C64.5 448.3 61.8 448.0 66.4 450.5C71.0 453.0 68.4 454.4 72.3 454.1C76.2 453.8 74.2 452.7 78.1 449.6C82.0 446.5 79.4 448.3 84.0 444.7C88.6 441.1 86.6 441.5 91.8 438.8C97.0 436.1 93.7 437.1 99.6 436.5C105.5 435.9 103.5 437.3 109.4 436.9C115.3 436.5 112.0 437.9 117.2 435.3C122.4 432.7 119.8 433.5 125.0 429.1C130.2 424.7 127.6 425.8 132.8 422.2C138.0 418.6 135.4 422.8 140.6 418.3C145.8 413.8 143.2 414.1 148.4 408.6C153.6 403.1 151.1 404.5 156.3 401.7C161.5 398.9 158.8 400.1 164.0 400.2C169.2 400.3 166.7 400.3 171.9 402.1C177.1 403.9 174.5 403.1 179.7 405.6C184.9 408.1 182.3 406.2 187.5 409.5C192.7 412.8 191.2 412.9 195.3 415.4C199.4 417.9 195.1 416.0 199.8 417.0C204.5 418.0 203.7 416.6 209.5 418.3C215.3 420.0 212.1 418.9 217.3 422.2C222.5 425.5 220.0 424.2 225.2 428.1C230.4 432.0 227.8 431.0 233.0 433.9C238.2 436.8 235.6 435.3 240.8 436.9C246.0 438.5 243.4 437.0 248.6 438.8C253.8 440.6 251.2 441.0 256.4 442.3C261.6 443.6 259.0 442.4 264.2 442.7C269.4 443.0 267.4 442.1 272.0 443.1C276.6 444.1 274.0 443.5 277.9 445.7C281.8 447.9 279.9 447.0 283.8 449.6C287.7 452.2 285.4 448.8 289.6 453.5C293.8 458.2 291.3 457.0 296.4 463.8C301.5 470.6 297.8 468.6 305.0 474.0C312.2 479.4 309.0 480.0 318.0 480.0C327.0 480.0 324.2 479.4 332.0 474.0C339.8 468.6 336.6 470.3 341.4 463.8C346.2 457.3 342.7 460.2 346.3 454.5C349.9 448.8 348.2 451.8 352.1 446.6C356.0 441.4 354.1 442.8 358.0 438.8C361.9 434.8 359.9 436.6 363.8 434.5C367.7 432.4 366.1 433.4 369.7 432.6C373.3 431.8 371.7 433.5 374.6 432.0C377.5 430.5 375.6 430.1 378.5 428.1C381.4 426.1 380.6 427.1 383.4 426.1C386.2 425.1 384.2 425.5 387.0 425.2C389.8 424.9 388.2 423.3 391.7 425.2C395.2 427.1 393.7 427.1 397.6 431.0C401.5 434.9 398.8 433.1 403.4 436.9C408.0 440.7 406.1 439.7 411.3 442.3C416.5 444.9 415.1 445.5 419.0 444.7C422.9 443.9 419.1 445.7 423.0 439.8C426.9 433.9 425.6 433.9 430.8 427.1C436.0 420.3 433.4 424.8 438.6 419.3C443.8 413.8 441.2 416.4 446.4 410.5C451.6 404.6 449.6 405.8 454.2 401.7C458.8 397.6 456.2 399.0 460.1 398.2C464.0 397.4 462.1 398.9 466.0 399.4C469.9 399.9 467.9 398.7 471.8 399.8C475.7 400.9 473.1 400.2 477.7 402.7C482.3 405.2 480.6 405.1 485.5 407.2C490.4 409.3 488.4 409.1 492.3 409.1C496.2 409.1 494.3 409.1 497.2 407.2C500.1 405.3 497.8 404.6 501.1 403.3C504.4 402.0 502.4 402.5 507.0 403.3C511.6 404.1 509.6 404.0 514.8 405.6C520.0 407.2 517.4 406.8 522.6 408.0C527.8 409.2 525.2 408.1 530.4 409.1C535.6 410.1 533.0 409.3 538.2 411.1C543.4 412.9 541.4 411.3 546.0 414.4C550.6 417.5 548.0 417.4 551.9 420.3C555.8 423.2 553.8 422.1 557.7 423.2C561.6 424.3 559.7 423.6 563.6 423.6C567.5 423.6 565.2 423.1 569.5 423.2C573.8 423.3 571.9 422.8 576.4 423.9C580.9 425.0 577.9 423.8 582.9 426.5C587.9 429.2 585.8 428.3 591.5 431.9C597.2 435.5 594.6 434.4 600.0 437.3C605.4 440.2 601.8 439.3 607.6 440.5C613.4 441.7 611.2 441.1 617.3 440.9C623.4 440.7 620.2 440.9 625.9 439.8C631.6 438.7 628.0 438.9 634.4 437.7C640.8 436.5 639.5 438.1 645.2 436.2C650.9 434.3 646.6 436.2 651.6 431.9C656.6 427.6 654.5 428.7 660.2 423.3C665.9 417.9 663.1 419.7 668.8 415.8C674.5 411.9 672.4 413.4 677.4 411.5C682.4 409.6 679.6 410.2 683.9 410.0C688.2 409.8 685.3 409.6 690.3 410.8C695.3 412.0 693.2 411.6 698.9 413.6C704.6 415.6 701.8 414.0 707.5 416.9C713.2 419.8 710.4 419.4 716.1 422.2C721.8 425.0 719.0 421.8 724.7 425.4C730.4 429.0 727.6 428.7 733.3 433.0C739.0 437.3 736.2 435.1 741.9 438.3C747.6 441.5 744.7 440.1 750.4 442.6C756.1 445.1 752.9 444.6 759.0 445.9C765.1 447.2 765.5 446.3 768.7 446.5"/>
</g>
<path fill="none" stroke="#f3e8ae" stroke-width="1.4" d="M0.0 493.3C3.3 493.4 3.3 493.0 9.8 493.6C16.3 494.2 13.0 493.7 19.5 495.2C26.0 496.7 22.8 496.1 29.3 498.1C35.8 500.1 32.5 499.1 39.0 501.1C45.5 503.1 42.3 502.2 48.8 504.0C55.3 505.8 52.1 504.9 58.6 506.5C65.1 508.1 61.9 507.8 68.4 508.9C74.9 510.0 71.6 510.7 78.1 509.9C84.6 509.1 81.4 508.5 87.9 506.5C94.4 504.5 91.2 505.5 97.7 504.0C104.2 502.5 100.9 503.6 107.4 502.0C113.9 500.4 110.7 501.2 117.2 499.1C123.7 497.0 120.5 497.5 127.0 495.6C133.5 493.7 130.2 494.7 136.7 493.3C143.2 491.9 140.0 492.6 146.5 491.3C153.0 490.0 150.1 490.6 156.3 489.3C162.5 488.0 158.8 488.8 165.0 487.5C171.2 486.2 169.0 486.6 175.0 485.5C181.0 484.4 178.0 484.6 183.0 484.3C188.0 484.0 184.4 483.8 190.0 484.5C195.6 485.2 193.3 485.1 199.8 486.4C206.3 487.7 203.0 486.4 209.5 488.4C216.0 490.4 212.8 490.0 219.3 492.3C225.8 494.6 222.5 493.4 229.0 495.2C235.5 497.0 232.3 496.1 238.8 497.7C245.3 499.3 242.1 498.7 248.6 500.1C255.1 501.5 251.9 500.9 258.4 502.0C264.9 503.1 261.6 502.4 268.1 503.4C274.6 504.4 271.4 503.8 277.9 505.0C284.4 506.2 281.2 505.0 287.7 506.9C294.2 508.8 290.9 508.2 297.4 510.8C303.9 513.4 300.7 512.2 307.2 514.7C313.7 517.2 310.5 516.5 317.0 518.3C323.5 520.1 320.2 519.6 326.7 520.0C333.2 520.4 330.0 520.7 336.5 519.6C343.0 518.5 339.8 519.3 346.3 516.7C352.8 514.1 349.5 515.4 356.0 511.8C362.5 508.2 359.3 509.8 365.8 505.9C372.3 502.0 369.1 503.3 375.6 500.1C382.1 496.9 380.6 498.0 385.3 496.2C390.0 494.4 385.1 495.0 389.8 494.8C394.5 494.6 393.0 494.7 399.5 495.6C406.0 496.5 402.8 496.0 409.3 497.5C415.8 499.0 412.5 499.2 419.0 500.1C425.5 501.0 422.3 500.4 428.8 500.1C435.3 499.8 432.1 500.0 438.6 499.1C445.1 498.2 441.9 499.1 448.4 497.5C454.9 495.9 451.6 496.9 458.1 494.2C464.6 491.5 461.4 491.6 467.9 489.3C474.4 487.0 471.2 488.0 477.7 487.4C484.2 486.8 480.9 487.4 487.4 487.4C493.9 487.4 490.7 487.1 497.2 487.4C503.7 487.7 500.5 487.8 507.0 488.4C513.5 489.0 510.2 488.9 516.7 489.3C523.2 489.7 520.0 489.7 526.5 489.7C533.0 489.7 529.8 489.3 536.3 489.3C542.8 489.3 539.5 489.0 546.0 489.7C552.5 490.4 549.3 490.1 555.8 491.3C562.3 492.5 559.1 492.2 565.6 493.3C572.1 494.4 570.3 494.0 575.3 494.7C580.3 495.4 575.3 494.0 580.7 495.3C586.1 496.6 584.3 496.6 591.5 498.5C598.7 500.4 595.0 500.0 602.2 501.1C609.4 502.2 605.8 501.5 613.0 501.7C620.2 501.9 616.6 501.8 623.7 501.7C630.8 501.6 627.2 502.0 634.4 501.3C641.6 500.6 638.0 501.6 645.2 499.6C652.4 497.6 648.7 498.7 655.9 495.3C663.1 491.9 659.5 493.1 666.7 489.5C673.9 485.9 670.2 487.5 677.4 484.6C684.6 481.7 681.0 483.1 688.2 480.9C695.4 478.7 691.8 479.2 698.9 478.1C706.0 477.0 702.4 476.8 709.6 477.5C716.8 478.2 713.2 477.9 720.4 480.3C727.6 482.7 723.9 480.7 731.1 484.6C738.3 488.5 734.7 487.8 741.9 492.1C749.1 496.4 745.5 493.8 752.6 497.4C759.7 501.0 758.1 500.4 763.3 502.8C768.5 505.2 766.5 503.9 768.1 504.5"/>
<polyline fill="none" stroke="#8574bd" stroke-width="1.1" stroke-linejoin="round" points="0.0,498.1 7.8,495.6 13.7,500.1 19.5,505.9 27.3,510.4 35.2,508.9 42.0,511.8 46.9,504.0 52.7,504.0 58.6,507.9 64.5,511.8 68.4,517.3 72.3,516.7 76.2,501.1 82.0,496.2 87.9,493.3 93.8,495.2 99.6,501.1 105.5,502.0 109.4,497.2 115.2,499.1 121.1,494.2 127.0,484.5 130.9,483.5 134.8,487.4 139.6,486.4 144.5,480.6 150.4,481.5 156.3,478.6 162.1,480.6 168.0,481.5 173.8,486.4 181.6,490.9 188.5,489.7 193.4,497.2 198.8,495.2 204.6,489.3 209.5,488.4 214.4,491.3 223.2,505.0 231.0,511.8 239.8,504.0 248.6,498.1 252.5,511.8 260.3,504.0 270.1,503.0 275.0,505.9 281.8,518.6 289.6,514.7 294.5,527.4 299.4,532.3 303.3,529.4 307.2,530.4 315.0,520.6 319.9,519.6 326.7,510.8 332.6,503.0 336.5,507.9 340.4,505.9 345.3,496.2 354.1,490.3 361.9,491.3 365.8,494.2 369.7,494.2 373.6,500.1 378.5,489.3 384.9,494.2 389.8,494.2 395.6,504.0 401.5,508.9 407.3,512.8 416.1,506.5 421.0,510.4 424.5,490.9 432.7,484.5 437.0,490.9 446.4,485.0 458.1,481.1 465.9,490.9 470.8,488.0 475.7,492.3 487.4,493.3 494.3,489.3 499.7,479.0 505.0,487.4 512.8,493.3 520.6,489.7 526.5,492.3 533.3,489.0 538.2,492.3 543.1,491.3 546.0,494.2 549.9,507.3 554.8,500.1 563.6,496.2 571.4,492.3 574.3,494.2 579.7,498.5 584.0,498.1 590.4,502.8 596.9,507.1 600.1,507.1 604.4,509.3 609.7,505.0 614.0,501.1 617.3,501.7 625.9,497.4 634.4,496.4 642.0,495.9 647.3,488.9 653.8,480.3 658.1,477.5 664.5,474.5 671.0,473.8 679.6,471.2 683.9,473.8 688.2,478.1 692.4,478.8 697.8,484.1 702.1,484.1 706.4,482.8 709.6,485.6 714.4,498.5 718.2,496.4 722.5,489.9 725.7,492.1 731.1,507.1 735.4,513.6 739.7,508.2 742.9,505.0 747.2,508.2 751.5,508.2 755.8,511.0 759.5,513.6 763.3,508.8 768.1,506.0"/>
<line x1="827.5" y1="0.75" x2="827.5" y2="540" stroke="#888a91" stroke-width="1" stroke-dasharray="3 3.4"/>
<line x1="-3.5" y1="358.5" x2="947" y2="358.5" stroke="#c3c4c9" stroke-width="1" stroke-dasharray="3.3 3.14"/>
<text x="976.5" y="36.8" font-family="Liberation Sans, sans-serif" font-size="11" fill="#2a2e39" font-weight="normal" text-anchor="start" textLength="36.5" lengthAdjust="spacingAndGlyphs" >1.23000</text>
<text x="976.5" y="73.3" font-family="Liberation Sans, sans-serif" font-size="11" fill="#2a2e39" font-weight="normal" text-anchor="start" textLength="36.5" lengthAdjust="spacingAndGlyphs" >1.22000</text>
<text x="976.5" y="109.8" font-family="Liberation Sans, sans-serif" font-size="11" fill="#2a2e39" font-weight="normal" text-anchor="start" textLength="36.5" lengthAdjust="spacingAndGlyphs" >1.21000</text>
<text x="976.5" y="182.8" font-family="Liberation Sans, sans-serif" font-size="11" fill="#2a2e39" font-weight="normal" text-anchor="start" textLength="36.5" lengthAdjust="spacingAndGlyphs" >1.19000</text>
<text x="976.5" y="219.3" font-family="Liberation Sans, sans-serif" font-size="11" fill="#2a2e39" font-weight="normal" text-anchor="start" textLength="36.5" lengthAdjust="spacingAndGlyphs" >1.18000</text>
<text x="976.5" y="255.8" font-family="Liberation Sans, sans-serif" font-size="11" fill="#2a2e39" font-weight="normal" text-anchor="start" textLength="36.5" lengthAdjust="spacingAndGlyphs" >1.17000</text>
<text x="976.5" y="292.3" font-family="Liberation Sans, sans-serif" font-size="11" fill="#2a2e39" font-weight="normal" text-anchor="start" textLength="36.5" lengthAdjust="spacingAndGlyphs" >1.16000</text>
<text x="976.5" y="328.8" font-family="Liberation Sans, sans-serif" font-size="11" fill="#2a2e39" font-weight="normal" text-anchor="start" textLength="36.5" lengthAdjust="spacingAndGlyphs" >1.15000</text>
<text x="976.5" y="402.2" font-family="Liberation Sans, sans-serif" font-size="11" fill="#2a2e39" font-weight="normal" text-anchor="start" textLength="36.5" lengthAdjust="spacingAndGlyphs" >0.01000</text>
<text x="976.5" y="448.3" font-family="Liberation Sans, sans-serif" font-size="11" fill="#2a2e39" font-weight="normal" text-anchor="start" textLength="36.5" lengthAdjust="spacingAndGlyphs" >0.00000</text>
<text x="976.5" y="481.2" font-family="Liberation Sans, sans-serif" font-size="11" fill="#2a2e39" font-weight="normal" text-anchor="start" textLength="27" lengthAdjust="spacingAndGlyphs" >75.00</text>
<text x="976.5" y="508.2" font-family="Liberation Sans, sans-serif" font-size="11" fill="#2a2e39" font-weight="normal" text-anchor="start" textLength="27" lengthAdjust="spacingAndGlyphs" >50.00</text>
<text x="976.5" y="535.0" font-family="Liberation Sans, sans-serif" font-size="11" fill="#2a2e39" font-weight="normal" text-anchor="start" textLength="27" lengthAdjust="spacingAndGlyphs" >25.00</text>
<text x="976" y="13" font-family="Liberation Sans, sans-serif" font-size="11" fill="#2a2e39" font-weight="normal" text-anchor="start" textLength="19" lengthAdjust="spacingAndGlyphs" >USD</text>
<path d="M997.3 7.6 l2.3 2.3 l2.3 -2.3" fill="none" stroke="#2a2e39" stroke-width="1.3"/>
<rect x="967" y="31.4" width="52" height="15.2" fill="#2a62e6"/>
<text x="976.5" y="43.0" font-family="Liberation Sans, sans-serif" font-size="11" fill="#ffffff" font-weight="bold" text-anchor="start" textLength="36.5" lengthAdjust="spacingAndGlyphs" >1.22818</text>
<rect x="967" y="84.4" width="52" height="15.2" fill="#2a62e6"/>
<text x="976.5" y="96.0" font-family="Liberation Sans, sans-serif" font-size="11" fill="#ffffff" font-weight="bold" text-anchor="start" textLength="36.5" lengthAdjust="spacingAndGlyphs" >1.21367</text>
<rect x="967" y="164.8" width="52" height="15.2" fill="#2a62e6"/>
<text x="976.5" y="176.4" font-family="Liberation Sans, sans-serif" font-size="11" fill="#ffffff" font-weight="bold" text-anchor="start" textLength="36.5" lengthAdjust="spacingAndGlyphs" >1.19455</text>
<rect x="967" y="220.0" width="52" height="15.2" fill="#2a62e6"/>
<text x="976.5" y="231.6" font-family="Liberation Sans, sans-serif" font-size="11" fill="#ffffff" font-weight="bold" text-anchor="start" textLength="36.5" lengthAdjust="spacingAndGlyphs" >1.17666</text>
<rect x="919.5" y="138" width="46.8" height="14.6" fill="#1b9f83"/>
<text x="923.8" y="149.5" font-family="Liberation Sans, sans-serif" font-size="11" fill="#ffffff" font-weight="bold" text-anchor="start" textLength="37" lengthAdjust="spacingAndGlyphs" >GBPUSD</text>
<rect x="967" y="138" width="56" height="28" fill="#1b9f83"/>
<text x="976.5" y="149.6" font-family="Liberation Sans, sans-serif" font-size="11" fill="#ffffff" font-weight="bold" text-anchor="start" textLength="36.5" lengthAdjust="spacingAndGlyphs" >1.19913</text>
<text x="976.5" y="162" font-family="Liberation Sans, sans-serif" font-size="11" fill="#cdeee6" font-weight="normal" text-anchor="start" textLength="41" lengthAdjust="spacingAndGlyphs" >01:20:50</text>
<rect x="967" y="165.5" width="52" height="13.8" fill="#2a62e6"/>
<text x="976.5" y="176.4" font-family="Liberation Sans, sans-serif" font-size="11" fill="#ffffff" font-weight="bold" text-anchor="start" textLength="36.5" lengthAdjust="spacingAndGlyphs" >1.19455</text>
<rect x="947" y="348" width="72.5" height="20.4" rx="1.5" fill="#131722"/>
<line x1="966.8" y1="348" x2="966.8" y2="368.4" stroke="#50535e" stroke-width="1"/>
<circle cx="956.9" cy="358.2" r="5.2" fill="none" stroke="#e0e3eb" stroke-width="1"/><path d="M953.9 358.2h6M956.9 355.2v6" stroke="#e0e3eb" stroke-width="1"/>
<text x="976.5" y="362.3" font-family="Liberation Sans, sans-serif" font-size="11" fill="#ffffff" font-weight="bold" text-anchor="start" textLength="36.5" lengthAdjust="spacingAndGlyphs" >1.14085</text>
<text x="89" y="556.6" font-family="Liberation Sans, sans-serif" font-size="10.6" fill="#2a2e39" font-weight="normal" text-anchor="middle" >24</text>
<text x="165" y="556.6" font-family="Liberation Sans, sans-serif" font-size="10.6" fill="#2a2e39" font-weight="normal" text-anchor="middle" >27</text>
<text x="239" y="556.6" font-family="Liberation Sans, sans-serif" font-size="10.6" fill="#2a2e39" font-weight="bold" text-anchor="middle" >Nov</text>
<text x="340" y="556.6" font-family="Liberation Sans, sans-serif" font-size="10.6" fill="#2a2e39" font-weight="normal" text-anchor="middle" >7</text>
<text x="467" y="556.6" font-family="Liberation Sans, sans-serif" font-size="10.6" fill="#2a2e39" font-weight="normal" text-anchor="middle" >14</text>
<text x="592" y="556.6" font-family="Liberation Sans, sans-serif" font-size="10.6" fill="#2a2e39" font-weight="normal" text-anchor="middle" >21</text>
<text x="718" y="556.6" font-family="Liberation Sans, sans-serif" font-size="10.6" fill="#2a2e39" font-weight="normal" text-anchor="middle" >28</text>
<rect x="769" y="539.5" width="116" height="21.5" rx="1.5" fill="#131722"/>
<text x="777.5" y="555" font-family="Liberation Sans, sans-serif" font-size="11.3" fill="#ffffff" font-weight="bold" text-anchor="start" textLength="62.5" lengthAdjust="spacingAndGlyphs" >Fri 02 Dec '22</text>
<text x="851.3" y="555" font-family="Liberation Sans, sans-serif" font-size="11.3" fill="#ffffff" font-weight="bold" text-anchor="start" textLength="25.3" lengthAdjust="spacingAndGlyphs" >10:00</text>
<g transform="translate(997.7,551.7)" fill="none" stroke="#41444d" stroke-width="1.2"><circle r="4.2"/><path d="M0-6.5v1.9M0 4.6v1.9M-6.5 0h1.9M4.6 0h1.9M-4.6-4.6l1.35 1.35M3.25 3.25l1.35 1.35M-4.6 4.6l1.35-1.35M3.25-3.25l1.35-1.35" stroke-width="1.7"/></g>
<text x="2.8" y="17.2" font-family="Liberation Sans, sans-serif" font-size="14.4" fill="#343842" font-weight="normal" text-anchor="start" textLength="38" lengthAdjust="spacingAndGlyphs" >British</text>
<text x="48.2" y="17.2" font-family="Liberation Sans, sans-serif" font-size="14.4" fill="#343842" font-weight="normal" text-anchor="start" textLength="35.7" lengthAdjust="spacingAndGlyphs" >Pound</text>
<text x="91" y="17.2" font-family="Liberation Sans, sans-serif" font-size="14.4" fill="#343842" font-weight="normal" text-anchor="start" >/</text>
<text x="101.3" y="17.2" font-family="Liberation Sans, sans-serif" font-size="14.4" fill="#343842" font-weight="normal" text-anchor="start" textLength="23.3" lengthAdjust="spacingAndGlyphs" >U.S.</text>
<text x="132" y="17.2" font-family="Liberation Sans, sans-serif" font-size="14.4" fill="#343842" font-weight="normal" text-anchor="start" textLength="35.7" lengthAdjust="spacingAndGlyphs" >Dollar</text>
<text x="172.3" y="17.2" font-family="Liberation Sans, sans-serif" font-size="14.4" fill="#343842" font-weight="normal" text-anchor="start" >·</text>
<text x="180" y="17.2" font-family="Liberation Sans, sans-serif" font-size="14.4" fill="#343842" font-weight="normal" text-anchor="start" textLength="13.7" lengthAdjust="spacingAndGlyphs" >4h</text>
<text x="197.3" y="17.2" font-family="Liberation Sans, sans-serif" font-size="14.4" fill="#343842" font-weight="normal" text-anchor="start" >·</text>
<text x="205.5" y="17.2" font-family="Liberation Sans, sans-serif" font-size="14.4" fill="#343842" font-weight="normal" text-anchor="start" textLength="33.2" lengthAdjust="spacingAndGlyphs" >FXCM</text>
<text x="243.2" y="17.2" font-family="Liberation Sans, sans-serif" font-size="14.4" fill="#343842" font-weight="normal" text-anchor="start" >·</text>
<text x="250" y="17.2" font-family="Liberation Sans, sans-serif" font-size="14.4" fill="#343842" font-weight="normal" text-anchor="start" textLength="74.7" lengthAdjust="spacingAndGlyphs" >TradingView</text>
<path d="M348.2 4.5h8.8v14.4h-8.8a7.2 7.2 0 0 1 0-14.4z" fill="#d9efec"/>
<path d="M357 4.5h9.8a7.2 7.2 0 0 1 0 14.4h-9.8z" fill="#f9c6d1"/>
<circle cx="348.6" cy="11.5" r="3.4" fill="#1f9d8a"/>
<path d="M360.2 10.3q1.9-1.9 3.8 0t3.8 0M360.2 13.9q1.9-1.9 3.8 0t3.8 0" fill="none" stroke="#d8436b" stroke-width="1.5" stroke-linecap="round"/>
<text x="388" y="18.2" font-family="Liberation Sans, sans-serif" font-size="11.8" fill="#343842" font-weight="normal" text-anchor="start" textLength="9" lengthAdjust="spacingAndGlyphs" >O</text>
<text x="397.8" y="18.2" font-family="Liberation Sans, sans-serif" font-size="11.8" fill="#2a9d8c" font-weight="normal" text-anchor="start" textLength="38.5" lengthAdjust="spacingAndGlyphs" >1.19813</text>
<text x="442.5" y="18.2" font-family="Liberation Sans, sans-serif" font-size="11.8" fill="#343842" font-weight="normal" text-anchor="start" textLength="8" lengthAdjust="spacingAndGlyphs" >H</text>
<text x="451.3" y="18.2" font-family="Liberation Sans, sans-serif" font-size="11.8" fill="#2a9d8c" font-weight="normal" text-anchor="start" textLength="38.5" lengthAdjust="spacingAndGlyphs" >1.19928</text>
<text x="496" y="18.2" font-family="Liberation Sans, sans-serif" font-size="11.8" fill="#343842" font-weight="normal" text-anchor="start" textLength="6" lengthAdjust="spacingAndGlyphs" >L</text>
<text x="502.8" y="18.2" font-family="Liberation Sans, sans-serif" font-size="11.8" fill="#2a9d8c" font-weight="normal" text-anchor="start" textLength="38.5" lengthAdjust="spacingAndGlyphs" >1.19707</text>
<text x="548.5" y="18.2" font-family="Liberation Sans, sans-serif" font-size="11.8" fill="#343842" font-weight="normal" text-anchor="start" textLength="8" lengthAdjust="spacingAndGlyphs" >C</text>
<text x="557.3" y="18.2" font-family="Liberation Sans, sans-serif" font-size="11.8" fill="#2a9d8c" font-weight="normal" text-anchor="start" textLength="38.5" lengthAdjust="spacingAndGlyphs" >1.19913</text>
<text x="601" y="18.2" font-family="Liberation Sans, sans-serif" font-size="11.8" fill="#2a9d8c" font-weight="normal" text-anchor="start" textLength="94" lengthAdjust="spacingAndGlyphs" >+0.00100 (+0.08%)</text>
<rect x="2" y="26.5" width="52" height="20" rx="3.5" fill="#ffffff" stroke="#dc9aa2" stroke-width="1"/>
<text x="9.8" y="40.6" font-family="Liberation Sans, sans-serif" font-size="11.3" fill="#cc4a55" font-weight="normal" text-anchor="start" textLength="32" lengthAdjust="spacingAndGlyphs" >1.1991</text>
<text x="42.7" y="38.3" font-family="Liberation Sans, sans-serif" font-size="8.8" fill="#cc4a55" font-weight="normal" text-anchor="start" >3</text>
<text x="61.5" y="40.5" font-family="Liberation Sans, sans-serif" font-size="10.5" fill="#343842" font-weight="normal" text-anchor="start" textLength="13.5" lengthAdjust="spacingAndGlyphs" >0.7</text>
<line x1="55" y1="43.5" x2="58" y2="43.5" stroke="#c9ccd2"/><line x1="76" y1="43.5" x2="82" y2="43.5" stroke="#9db4d8"/>
<rect x="83.3" y="26.5" width="52" height="20" rx="3.5" fill="#ffffff" stroke="#8199bd" stroke-width="1"/>
<text x="91.3" y="40.6" font-family="Liberation Sans, sans-serif" font-size="11.3" fill="#3c629c" font-weight="normal" text-anchor="start" textLength="32" lengthAdjust="spacingAndGlyphs" >1.1992</text>
<text x="124.3" y="38.3" font-family="Liberation Sans, sans-serif" font-size="8.8" fill="#3c629c" font-weight="normal" text-anchor="start" >0</text>
<text x="2.5" y="64.8" font-family="Liberation Sans, sans-serif" font-size="11.6" fill="#343842" font-weight="normal" text-anchor="start" textLength="101" lengthAdjust="spacingAndGlyphs" >MA 50 close 0 SMA 5</text>
<text x="111.8" y="64.8" font-family="Liberation Sans, sans-serif" font-size="11.6" fill="#3b68b4" font-weight="normal" text-anchor="start" textLength="39.5" lengthAdjust="spacingAndGlyphs" >1.19699</text>
<text x="2.5" y="410.1" font-family="Liberation Sans, sans-serif" font-size="12" fill="#343842" font-weight="normal" text-anchor="start" textLength="146" lengthAdjust="spacingAndGlyphs" >MACD 12 26 close 9 EMA EMA</text>
<text x="162" y="410.1" font-family="Liberation Sans, sans-serif" font-size="12" fill="#f6cfd0" font-weight="normal" text-anchor="start" textLength="40" lengthAdjust="spacingAndGlyphs" >0.00127</text>
<text x="208" y="410.1" font-family="Liberation Sans, sans-serif" font-size="12" fill="#4169a8" font-weight="normal" text-anchor="start" textLength="46" lengthAdjust="spacingAndGlyphs" >−0.00053</text>
<text x="259" y="410.1" font-family="Liberation Sans, sans-serif" font-size="12" fill="#dd9a4e" font-weight="normal" text-anchor="start" textLength="41" lengthAdjust="spacingAndGlyphs" >0.00074</text>
<text x="2.5" y="482.8" font-family="Liberation Sans, sans-serif" font-size="12.2" fill="#343842" font-weight="normal" text-anchor="start" textLength="107" lengthAdjust="spacingAndGlyphs" >RSI 14 close SMA 14 2</text>
<text x="117.5" y="482.8" font-family="Liberation Sans, sans-serif" font-size="12.2" fill="#8b78c2" font-weight="normal" text-anchor="start" textLength="28" lengthAdjust="spacingAndGlyphs" >48.11</text>
<text x="152" y="482.8" font-family="Liberation Sans, sans-serif" font-size="12.2" fill="#efe08a" font-weight="normal" text-anchor="start" textLength="28" lengthAdjust="spacingAndGlyphs" >49.17</text>
<text x="186" y="483.3" font-family="Liberation Sans, sans-serif" font-size="10.5" fill="#343842" font-weight="normal" text-anchor="start" >∅</text>
<text x="198.8" y="483.3" font-family="Liberation Sans, sans-serif" font-size="10.5" fill="#343842" font-weight="normal" text-anchor="start" >∅</text>
<circle cx="14.4" cy="520.8" r="14.2" fill="#eeeef2"/><circle cx="14.4" cy="520.8" r="13.3" fill="#ffffff"/>
<g fill="#131722"><path d="M5.4 516h9.4v8.8h-4.8v-5.9h-4.6z"/><circle cx="16.7" cy="517.5" r="1.5"/><path d="M19.3 516h4.9l-3.1 8.8h-4.9z"/></g>
</svg></body></html>
